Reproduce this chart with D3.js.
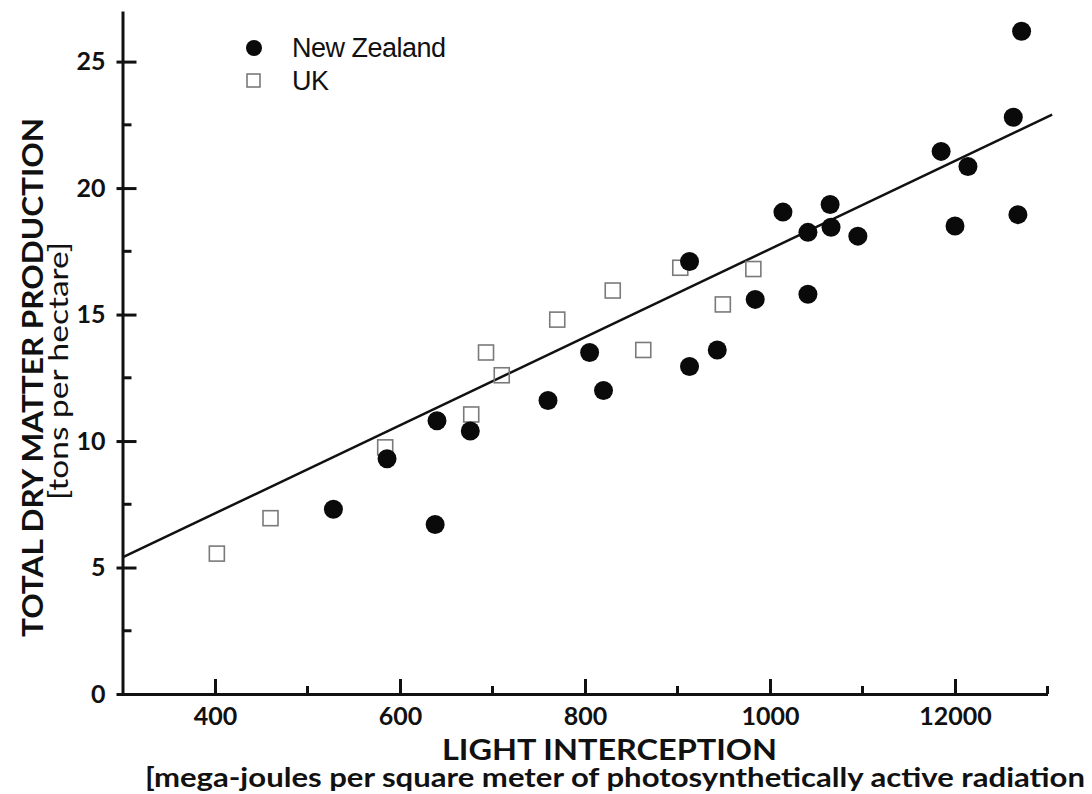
<!DOCTYPE HTML>
<html>
  <head>
    <style>
      body { margin: 0; background: #fff; }
      text { fill: #111; }
    </style>
  </head>
  <body>
    <script type="text/javascript" src="https://cdnjs.cloudflare.com/ajax/libs/d3/7.8.5/d3.min.js"></script>
    <script>

      // *** DATA ***

      // New Zealand (filled circles): light interception, dry matter
      var nzX = [528, 586, 640, 638, 676, 760, 805, 820, 913, 913, 943, 984,
                 1014, 1041, 1041, 1065, 1066, 1095, 1185, 1200, 1214, 1263, 1268, 1272];
      var nzY = [7.3, 9.3, 10.8, 6.7, 10.4, 11.6, 13.5, 12.0, 17.1, 12.95, 13.6, 15.6,
                 19.05, 18.25, 15.8, 19.35, 18.45, 18.1, 21.45, 18.5, 20.85, 22.8, 18.95, 26.2];

      // UK (open squares)
      var ukX = [402, 460, 584, 677, 693, 710, 770, 830, 863, 903, 949, 982];
      var ukY = [5.55, 6.95, 9.75, 11.05, 13.5, 12.6, 14.8, 15.95, 13.6, 16.85, 15.4, 16.8];

      // fitted line end points
      var fitX = [300, 1305];
      var fitY = [5.4, 22.9];

      // axis ticks (the printed "12000" is kept as in the original)
      var xTicks = [400, 600, 800, 1000, 1200];
      var xTickLabels = ["400", "600", "800", "1000", "12000"];
      var xMinor = [500, 700, 900, 1100, 1300];
      var yTicks = [0, 5, 10, 15, 20, 25];
      var yMinor = [2.5, 7.5, 12.5, 17.5, 22.5];

      var legendLabels = ["New Zealand", "UK"];

      // *** SETUP ***

      var W = 1092, H = 794;
      var labelFont = "Lato, 'Open Sans', sans-serif";

      var svg = d3.select("body").append("svg")
        .attr("width", W)
        .attr("height", H);

      svg.append("rect").attr("width", W).attr("height", H).style("fill", "#fff");

      var x = d3.scaleLinear().domain([300, 1300]).range([122.5, 1047.5]);
      var y = d3.scaleLinear().domain([0, 27]).range([694, 11]);

      // X AXIS
      var gx = svg.append("g")
        .attr("transform", "translate(0," + y(0) + ")")
        .call(d3.axisBottom(x)
          .tickValues(xTicks)
          .tickFormat(function(d, i){ return xTickLabels[i]; })
          .tickSizeInner(-15)
          .tickSizeOuter(0)
          .tickPadding(13));

      gx.selectAll(".minor").data(xMinor).enter()
        .append("line")
          .attr("class", "minor")
          .attr("x1", function(d){ return x(d); })
          .attr("x2", function(d){ return x(d); })
          .attr("y1", 0)
          .attr("y2", -8);

      // Y AXIS
      var gy = svg.append("g")
        .attr("transform", "translate(" + x(300) + ",0)")
        .call(d3.axisLeft(y)
          .tickValues(yTicks)
          .tickSizeInner(6)
          .tickSizeOuter(0)
          .tickPadding(11));

      gy.selectAll(".tick line").attr("x1", 14);

      gy.selectAll(".minor").data(yMinor).enter()
        .append("line")
          .attr("class", "minor")
          .attr("x1", 0)
          .attr("x2", 9)
          .attr("y1", function(d){ return y(d); })
          .attr("y2", function(d){ return y(d); });

      svg.selectAll(".domain, .tick line, .minor")
        .style("stroke", "#111")
        .style("stroke-width", 3);

      svg.selectAll(".tick text")
        .style("font-family", labelFont)
        .style("font-weight", "bold")
        .style("font-size", "25px")
        .style("fill", "#111");

      // FITTED LINE
      svg.append("line")
        .attr("x1", x(fitX[0])).attr("y1", y(fitY[0]))
        .attr("x2", x(fitX[1])).attr("y2", y(fitY[1]))
        .style("stroke", "#111")
        .style("stroke-width", 2.5);

      // UK SQUARES
      var sq = 15;
      svg.selectAll(".uk").data(ukX).enter()
        .append("rect")
          .attr("class", "uk")
          .attr("x", function(d){ return x(d) - sq/2; })
          .attr("y", function(d, i){ return y(ukY[i]) - sq/2; })
          .attr("width", sq)
          .attr("height", sq)
          .style("fill", "none")
          .style("stroke", "#7a7a7a")
          .style("stroke-width", 1.6);

      // NZ CIRCLES
      svg.selectAll(".nz").data(nzX).enter()
        .append("circle")
          .attr("class", "nz")
          .attr("cx", function(d){ return x(d); })
          .attr("cy", function(d, i){ return y(nzY[i]); })
          .attr("r", 9.5)
          .style("fill", "#0a0a0a");

      // LEGEND
      svg.append("circle").attr("cx", 254).attr("cy", 48).attr("r", 8).style("fill", "#0a0a0a");
      svg.append("rect").attr("x", 247).attr("y", 74).attr("width", 13).attr("height", 13)
        .style("fill", "none").style("stroke", "#7a7a7a").style("stroke-width", 1.6);

      svg.selectAll(".legend").data(legendLabels).enter()
        .append("text")
          .attr("class", "legend")
          .attr("x", 292)
          .attr("y", function(d, i){ return 57 + i * 33; })
          .style("font-family", "'Liberation Sans', Arial, sans-serif")
          .style("font-size", "27px")
          .style("letter-spacing", "-0.5px")
          .text(function(d){ return d; });

      // AXIS TITLES
      svg.append("text")
        .attr("x", 442).attr("y", 760)
        .attr("textLength", 335)
        .attr("lengthAdjust", "spacingAndGlyphs")
        .style("font-family", labelFont)
        .style("font-weight", "bold")
        .style("font-size", "28px")
        .text("LIGHT INTERCEPTION");

      svg.append("text")
        .attr("x", 145).attr("y", 787)
        .attr("textLength", 940)
        .attr("lengthAdjust", "spacingAndGlyphs")
        .style("font-family", labelFont)
        .style("font-weight", "bold")
        .style("font-size", "26px")
        .text("[mega-joules per square meter of photosynthetically active radiation");

      svg.append("text")
        .attr("transform", "translate(43,637) rotate(-90)")
        .attr("textLength", 519)
        .attr("lengthAdjust", "spacingAndGlyphs")
        .style("font-family", labelFont)
        .style("font-weight", "bold")
        .style("font-size", "29px")
        .text("TOTAL DRY MATTER PRODUCTION");

      svg.append("text")
        .attr("transform", "translate(68,500) rotate(-90)")
        .attr("textLength", 258)
        .attr("lengthAdjust", "spacingAndGlyphs")
        .style("font-family", labelFont)
        .style("font-size", "26px")
        .text("[tons per hectare]");

    </script>
  </body>
</html>
